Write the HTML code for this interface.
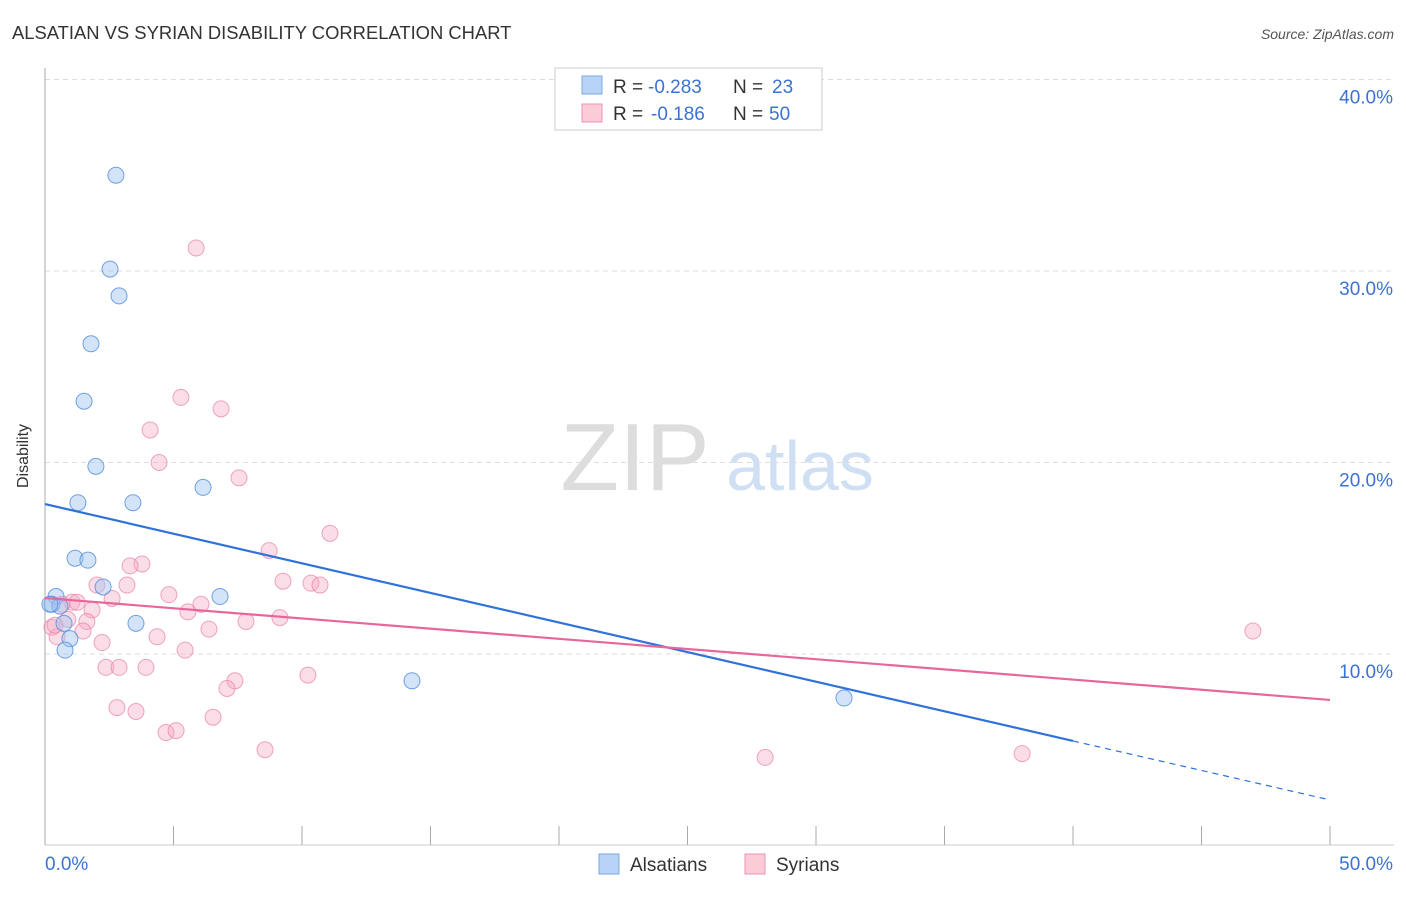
<!DOCTYPE html>
<html><head><meta charset="utf-8"><style>
body{margin:0;background:#fff;font-family:"Liberation Sans",sans-serif;}
svg text{font-family:"Liberation Sans",sans-serif;}
</style></head><body>
<svg id="chart" width="1406" height="892" xmlns="http://www.w3.org/2000/svg">
<text x="12" y="39" font-size="18.4" fill="#333">ALSATIAN VS SYRIAN DISABILITY CORRELATION CHART</text>
<text x="1394" y="39" font-size="14" fill="#555" font-style="italic" text-anchor="end">Source: ZipAtlas.com</text>
<text x="28" y="456" font-size="16" fill="#333" text-anchor="middle" transform="rotate(-90 28 456)">Disability</text>
<g>
<text x="635" y="490" font-size="96" fill="#ddd" font-family="Liberation Serif" text-anchor="middle">ZIP</text>
<text x="800" y="490" font-size="70" fill="#cfe0f5" text-anchor="middle">atlas</text></g>
<g id="grid"></g><g id="axes"></g><g id="marks"></g>
<g>
<rect x="555" y="68" width="267" height="62" fill="#fff" stroke="#ccc"/>
<rect x="582" y="76" width="20" height="18" fill="#b8d3f5" stroke="#7aa8e0"/>
<rect x="582" y="104" width="20" height="18" fill="#fbcbd8" stroke="#ee93b0"/>
<text x="613" y="93" font-size="19" fill="#333">R =</text>
<text x="648" y="93" font-size="19" fill="#3a74d0">-0.283</text>
<text x="733" y="93" font-size="19" fill="#333">N =</text>
<text x="772" y="93" font-size="19" fill="#3a74d0">23</text>
<text x="613" y="120" font-size="19" fill="#333">R =</text>
<text x="651" y="120" font-size="19" fill="#3a74d0">-0.186</text>
<text x="733" y="120" font-size="19" fill="#333">N =</text>
<text x="769" y="120" font-size="19" fill="#3a74d0">50</text>
</g>
<g>
<rect x="599" y="854" width="20" height="20" fill="#b8d3f5" stroke="#7aa8e0"/>
<text x="630" y="871" font-size="19" fill="#333">Alsatians</text>
<rect x="745" y="854" width="20" height="20" fill="#fbcbd8" stroke="#ee93b0"/>
<text x="776" y="871" font-size="19" fill="#333">Syrians</text>
</g>
</svg>
<script>
const blueX=[2.76,2.53,2.88,1.79,1.52,1.98,1.28,3.42,6.15,1.17,1.67,2.26,0.43,6.81,0.27,0.58,0.74,3.54,0.97,0.78,14.28,31.09,0.19];
const blueY=[35.0,30.1,28.7,26.2,23.2,19.8,17.9,17.9,18.7,15.0,14.9,13.5,13.0,13.0,12.6,12.5,11.6,11.6,10.8,10.2,8.6,7.7,12.6];
const pinkX=[5.88,5.29,6.85,4.09,4.44,7.55,11.09,8.72,3.77,3.31,2.02,3.19,9.26,10.35,10.70,4.82,2.61,1.05,1.25,0.66,6.07,1.83,5.56,9.14,7.82,1.63,0.27,6.38,1.48,0.47,4.36,2.22,5.45,2.37,2.88,3.93,10.23,7.39,7.08,2.80,3.54,6.54,4.71,5.10,8.56,28.02,38.02,47.0,0.39,0.89];
const pinkY=[31.2,23.4,22.8,21.7,20.0,19.2,16.3,15.4,14.7,14.6,13.6,13.6,13.8,13.7,13.6,13.1,12.9,12.7,12.7,12.6,12.6,12.3,12.2,11.9,11.7,11.7,11.4,11.3,11.2,10.9,10.9,10.6,10.2,9.3,9.3,9.3,8.9,8.6,8.2,7.2,7.0,6.7,5.9,6.0,5.0,4.6,4.8,11.2,11.5,11.8];
const blueTrend=[17.83,5.46,2.38]; // y at x=0, 40, 50
const pinkTrend=[12.92,7.60]; // y at x=0, 50
const yTicks=[10,20,30,40];
const yTickLabels=["10.0%","20.0%","30.0%","40.0%"];
const xTicks=[0,5,10,15,20,25,30,35,40,45,50];
const xs=v=>45+v*25.7, ys=v=>845.5-v*19.15;
const NS="http://www.w3.org/2000/svg";
function mk(parent,tag,attrs){const e=document.createElementNS(NS,tag);for(const k in attrs)e.setAttribute(k,attrs[k]);document.getElementById(parent).appendChild(e);return e;}
yTicks.forEach((t,i)=>{
 const l=mk('grid','line',{x1:45,x2:1394,y1:ys(t),y2:ys(t),stroke:'#ddd','stroke-dasharray':'5,4'});
 
 
 const tx=mk('grid','text',{x:1393,y:ys(t)+24,'font-size':19,fill:'#3a74d0','text-anchor':'end'});
 tx.textContent=yTickLabels[i];
 
 
});
const ax=mk('axes','line',{x1:45,x2:45,y1:68,y2:845,stroke:'#aaa'});


const bx=mk('axes','line',{x1:45,x2:1394,y1:845,y2:845,stroke:'#ccc'});


xTicks.forEach(t=>{
 const l=mk('axes','line',{x1:xs(t),x2:xs(t),y1:826,y2:845,stroke:'#aaa'});
 
 
});
const x0=mk('axes','text',{x:45,y:870,'font-size':19,fill:'#3a74d0'});x0.textContent='0.0%';


const x1=mk('axes','text',{x:1393,y:870,'font-size':19,fill:'#3a74d0','text-anchor':'end'});x1.textContent='50.0%';


pinkX.forEach((x,i)=>{
 const c=mk('marks','circle',{cx:xs(x),cy:ys(pinkY[i]),r:8,fill:'rgba(245,170,195,0.4)',stroke:'rgba(232,130,165,0.7)','stroke-width':1});
 
 
});
blueX.forEach((x,i)=>{
 const c=mk('marks','circle',{cx:xs(x),cy:ys(blueY[i]),r:8,fill:'rgba(160,195,240,0.45)',stroke:'rgba(80,140,220,0.8)','stroke-width':1});
 
 
});
const bt=mk('marks','line',{x1:xs(0),y1:ys(blueTrend[0]),x2:xs(40),y2:ys(blueTrend[1]),stroke:'#2f72d8','stroke-width':2.2});


const bd=mk('marks','line',{x1:xs(40),y1:ys(blueTrend[1]),x2:xs(50),y2:ys(blueTrend[2]),stroke:'#2f72d8','stroke-width':1.2,'stroke-dasharray':'6,5'});


const pt=mk('marks','line',{x1:xs(0),y1:ys(pinkTrend[0]),x2:xs(50),y2:ys(pinkTrend[1]),stroke:'#e8679a','stroke-width':2.2});


</script>
</body></html>
